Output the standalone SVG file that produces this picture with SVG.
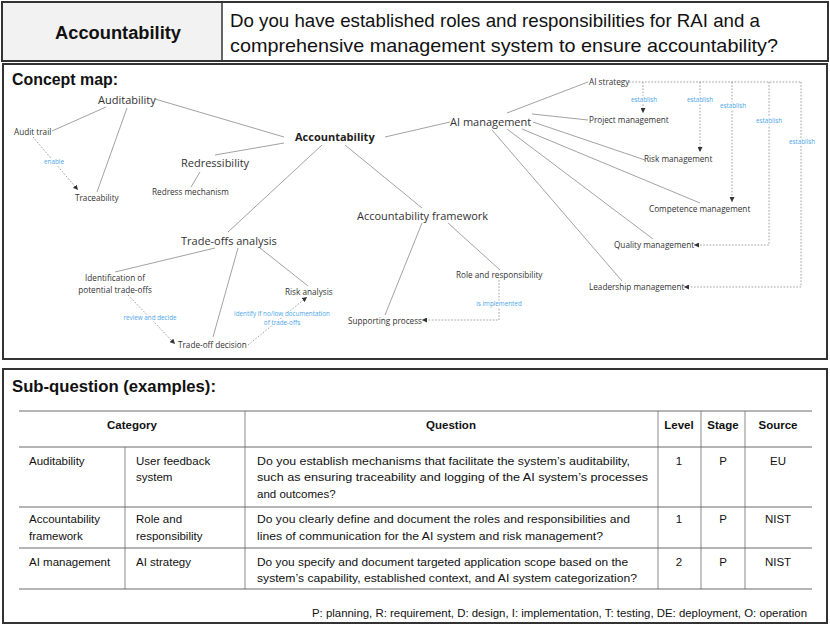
<svg xmlns="http://www.w3.org/2000/svg" width="830" height="630" viewBox="0 0 830 630">
<defs>
<style>
.box{fill:#fff;stroke:#333;stroke-width:2}
.hd{font-family:"Liberation Sans",Arial,sans-serif;fill:#111}
.ttl{font-family:"Liberation Sans",Arial,sans-serif;font-weight:bold;font-size:16.5px;fill:#111}
.n{font-family:"Open Sans","Noto Sans",sans-serif;fill:#333}
.big{font-size:11px}
.sm{font-size:8.2px}
.b{font-weight:bold;fill:#222}
.lbl{font-family:"Open Sans","Noto Sans",sans-serif;font-size:6.3px;fill:#4ea6ea;text-anchor:middle;stroke:#fff;stroke-width:2.5;paint-order:stroke}
.e{stroke:#8a8a8a;stroke-width:0.8;fill:none}
.d{stroke:#888;stroke-width:0.8;fill:none;stroke-dasharray:1.6 1.6}
.t{font-family:"Liberation Sans",Arial,sans-serif;font-size:11.5px;fill:#111}
.th{font-family:"Liberation Sans",Arial,sans-serif;font-size:11.5px;font-weight:bold;fill:#111;text-anchor:middle}
.c{text-anchor:middle}
.hl{stroke:#6a6a6a;stroke-width:1}
.vl{stroke:#b0b0b0;stroke-width:1.5}
</style>
<marker id="ah" viewBox="0 0 6 6" refX="6" refY="3" markerWidth="5" markerHeight="5" markerUnits="userSpaceOnUse" orient="auto">
<path d="M0,0 L6,3 L0,6 z" fill="#333"/>
</marker>
</defs>
<rect width="830" height="630" fill="#fff"/>

<g id="header">
<rect x="2" y="2" width="826" height="59" class="box"/>
<rect x="3" y="3" width="219" height="57" fill="#f2f2f2"/>
<line x1="222" y1="2" x2="222" y2="61" stroke="#333" stroke-width="1.5"/>
<text x="118" y="39" class="hd c" font-size="17.5" font-weight="bold" textLength="126" lengthAdjust="spacingAndGlyphs">Accountability</text>
<text x="230" y="27" class="hd" font-size="19" textLength="530" lengthAdjust="spacingAndGlyphs">Do you have established roles and responsibilities for RAI and a</text>
<text x="230" y="52" class="hd" font-size="19" textLength="548" lengthAdjust="spacingAndGlyphs">comprehensive management system to ensure accountability?</text>
</g>

<g id="concept-map-panel">
<rect x="3" y="64" width="824" height="295" class="box"/>
<text x="12" y="85" class="ttl" textLength="106" lengthAdjust="spacingAndGlyphs">Concept map:</text>
</g>

<g id="connectors">
<line class="e" x1="106" y1="107" x2="52" y2="131"/>
<line class="e" x1="127" y1="108" x2="97" y2="192"/>
<line class="e" x1="155" y1="99" x2="284" y2="137"/>
<line class="e" x1="215" y1="155" x2="284" y2="143"/>
<line class="e" x1="200" y1="172" x2="191" y2="187"/>
<line class="e" x1="322" y1="145" x2="228" y2="232"/>
<line class="e" x1="345" y1="145" x2="422" y2="208"/>
<line class="e" x1="385" y1="137" x2="450" y2="122"/>
<line class="e" x1="422" y1="223" x2="385" y2="315"/>
<line class="e" x1="448" y1="223" x2="500" y2="270"/>
<line class="e" x1="215" y1="248" x2="115" y2="272"/>
<line class="e" x1="238" y1="248" x2="213" y2="337"/>
<line class="e" x1="260" y1="248" x2="308" y2="286"/>
<line class="e" x1="507" y1="113" x2="588" y2="82"/>
<line class="e" x1="532" y1="114" x2="588" y2="120"/>
<line class="e" x1="533" y1="122" x2="645" y2="160"/>
<line class="e" x1="522" y1="129" x2="700" y2="203"/>
<line class="e" x1="507" y1="129" x2="653" y2="239"/>
<line class="e" x1="492" y1="130" x2="622" y2="281"/>

<path class="d" d="M33,137 L78,190" marker-end="url(#ah)"/>
<path class="d" d="M128,295 L175,344" marker-end="url(#ah)"/>
<path class="d" d="M248,345 L307,297" marker-end="url(#ah)"/>
<path class="d" d="M499,280 L499,320 L422,320" marker-end="url(#ah)"/>
<path class="d" d="M629,82 L801,82"/>
<path class="d" d="M643,82 L643,113" marker-end="url(#ah)"/>
<path class="d" d="M700,82 L700,152" marker-end="url(#ah)"/>
<path class="d" d="M732,82 L732,202" marker-end="url(#ah)"/>
<path class="d" d="M769,82 L769,245 L694,245" marker-end="url(#ah)"/>
<path class="d" d="M801,82 L801,287 L684,287" marker-end="url(#ah)"/>

<text class="lbl" x="54" y="164">enable</text>
<text class="lbl" x="150" y="320">review and decide</text>
<text class="lbl" x="282" y="316">identify if no/low documentation</text>
<text class="lbl" x="282" y="325">of trade-offs</text>
<text class="lbl" x="499" y="306">is implemented</text>
<text class="lbl" x="644" y="102">establish</text>
<text class="lbl" x="700" y="102">establish</text>
<text class="lbl" x="733" y="108">establish</text>
<text class="lbl" x="769" y="123">establish</text>
<text class="lbl" x="802" y="144">establish</text>
</g>

<g id="n-auditability"><text class="n big" x="98" y="104">Auditability</text></g>
<g id="n-audit-trail"><text class="n sm" x="14" y="135">Audit trail</text></g>
<g id="n-traceability"><text class="n sm" x="75" y="201">Traceability</text></g>
<g id="n-redressibility"><text class="n big" x="181" y="167">Redressibility</text></g>
<g id="n-redress-mechanism"><text class="n sm" x="152" y="195">Redress mechanism</text></g>
<g id="n-accountability"><text class="n big b" x="295" y="141">Accountability</text></g>
<g id="n-ai-management"><text class="n big" x="450" y="126">AI management</text></g>
<g id="n-ai-strategy"><text class="n sm" x="589" y="85">AI strategy</text></g>
<g id="n-project-management"><text class="n sm" x="589" y="123">Project management</text></g>
<g id="n-risk-management"><text class="n sm" x="644" y="162">Risk management</text></g>
<g id="n-competence-management"><text class="n sm" x="649" y="212">Competence management</text></g>
<g id="n-quality-management"><text class="n sm" x="614" y="248">Quality management</text></g>
<g id="n-leadership-management"><text class="n sm" x="589" y="290">Leadership management</text></g>
<g id="n-accountability-framework"><text class="n big" x="357" y="220">Accountability framework</text></g>
<g id="n-role-responsibility"><text class="n sm" x="456" y="278">Role and responsibility</text></g>
<g id="n-supporting-process"><text class="n sm" x="348" y="324">Supporting process</text></g>
<g id="n-trade-offs-analysis"><text class="n big" x="181" y="245">Trade-offs analysis</text></g>
<g id="n-identification"><text class="n sm c" x="115" y="281">Identification of</text><text class="n sm c" x="115" y="293">potential trade-offs</text></g>
<g id="n-risk-analysis"><text class="n sm" x="285" y="295">Risk analysis</text></g>
<g id="n-trade-off-decision"><text class="n sm" x="178" y="348">Trade-off decision</text></g>

<g id="sub-question-panel">
<rect x="3" y="369" width="824" height="254" class="box"/>
<text x="12" y="392" class="ttl" textLength="204" lengthAdjust="spacingAndGlyphs">Sub-question (examples):</text>
</g>

<g id="table">
<line class="vl" x1="245" y1="411" x2="245" y2="589"/>
<line class="vl" x1="125" y1="447" x2="125" y2="589"/>
<line class="vl" x1="658" y1="411" x2="658" y2="589"/>
<line class="vl" x1="701" y1="411" x2="701" y2="589"/>
<line class="vl" x1="745" y1="411" x2="745" y2="589"/>
<line class="hl" x1="19" y1="411" x2="812" y2="411"/>
<line class="hl" x1="19" y1="447" x2="812" y2="447"/>
<line class="hl" x1="19" y1="507" x2="812" y2="507"/>
<line class="hl" x1="19" y1="548" x2="812" y2="548"/>
<line class="hl" x1="19" y1="589" x2="812" y2="589"/>

<text class="th" x="132" y="429">Category</text>
<text class="th" x="451" y="429">Question</text>
<text class="th" x="679" y="429">Level</text>
<text class="th" x="723" y="429">Stage</text>
<text class="th" x="778" y="429">Source</text>

<text class="t" x="29" y="465">Auditability</text>
<text class="t" x="136" y="465">User feedback</text>
<text class="t" x="136" y="481">system</text>
<text class="t" x="257" y="465" textLength="373" lengthAdjust="spacingAndGlyphs">Do you establish mechanisms that facilitate the system’s auditability,</text>
<text class="t" x="257" y="481" textLength="391" lengthAdjust="spacingAndGlyphs">such as ensuring traceability and logging of the AI system’s processes</text>
<text class="t" x="257" y="498">and outcomes?</text>
<text class="t c" x="679" y="465">1</text>
<text class="t c" x="723" y="465">P</text>
<text class="t c" x="778" y="465">EU</text>

<text class="t" x="29" y="523">Accountability</text>
<text class="t" x="29" y="540">framework</text>
<text class="t" x="136" y="523">Role and</text>
<text class="t" x="136" y="540">responsibility</text>
<text class="t" x="257" y="523" textLength="373" lengthAdjust="spacingAndGlyphs">Do you clearly define and document the roles and responsibilities and</text>
<text class="t" x="257" y="540" textLength="346" lengthAdjust="spacingAndGlyphs">lines of communication for the AI system and risk management?</text>
<text class="t c" x="679" y="523">1</text>
<text class="t c" x="723" y="523">P</text>
<text class="t c" x="778" y="523">NIST</text>

<text class="t" x="29" y="566">AI management</text>
<text class="t" x="136" y="566">AI strategy</text>
<text class="t" x="257" y="566" textLength="371" lengthAdjust="spacingAndGlyphs">Do you specify and document targeted application scope based on the</text>
<text class="t" x="257" y="582" textLength="380" lengthAdjust="spacingAndGlyphs">system’s capability, established context, and AI system categorization?</text>
<text class="t c" x="679" y="566">2</text>
<text class="t c" x="723" y="566">P</text>
<text class="t c" x="778" y="566">NIST</text>

<text class="t" x="807" y="617" font-size="10.5" text-anchor="end" textLength="495" lengthAdjust="spacingAndGlyphs">P: planning, R: requirement, D: design, I: implementation, T: testing, DE: deployment, O: operation</text>
</g>
</svg>
